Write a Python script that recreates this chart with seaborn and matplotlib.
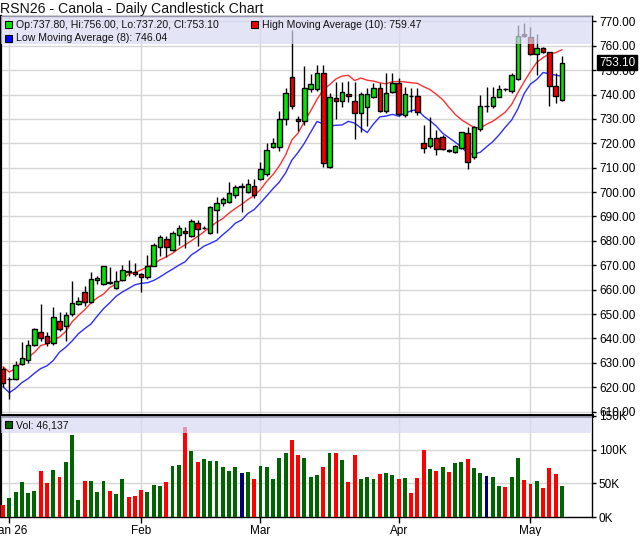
import numpy as np
import pandas as pd
import matplotlib
matplotlib.use("Agg")
import matplotlib.pyplot as plt
import matplotlib.transforms as mtransforms
from matplotlib.patches import Rectangle
import seaborn as sns

# daily bars, Dec 31 2025 -> May 8 2026
opens = [627.4, 623.3, 623.3, 629.6, 631.2, 637.2, 642.8, 641.2, 638.3, 647.0,
         645.0, 649.9, 654.0, 658.9, 654.8, 663.9, 662.2, 663.0, 660.6, 663.9,
         667.4, 667.3, 666.3, 665.0, 669.9, 677.4, 680.7, 676.3, 682.3, 684.2,
         681.9, 687.2, 685.4, 683.2, 692.7, 695.5, 696.0, 698.8, 702.3, 699.9,
         702.3, 705.2, 707.3, 718.5, 718.4, 729.8, 747.0, 729.8, 729.0, 742.1,
         742.1, 749.0, 710.2, 738.4, 737.2, 740.2, 737.5, 732.3, 735.0, 738.9,
         742.5, 733.4, 740.9, 744.6, 731.6, 739.5, 739.4, 720.0, 718.9, 722.0,
         722.7, 717.2, 716.6, 718.0, 724.1, 714.5, 725.7, 735.4, 735.3, 739.1,
         742.2, 741.6, 746.2, 764.7, 763.7, 756.6, 758.9, 757.3, 743.5, 737.8]
highs = [628.4, 624.0, 630.8, 638.6, 639.4, 644.2, 654.2, 642.5, 652.8, 651.0,
         651.0, 663.6, 657.0, 661.5, 667.3, 665.5, 669.7, 669.2, 667.7, 670.1,
         672.0, 670.8, 667.0, 674.2, 679.0, 682.5, 682.0, 684.0, 686.5, 685.8,
         688.8, 688.5, 686.0, 694.1, 697.9, 698.1, 704.3, 702.8, 703.6, 705.4,
         705.4, 712.5, 720.0, 722.0, 733.3, 742.5, 766.5, 731.0, 751.5, 748.5,
         752.1, 752.3, 740.5, 745.3, 745.3, 745.7, 745.3, 741.2, 742.5, 744.9,
         744.9, 748.7, 748.7, 746.6, 743.2, 742.5, 742.5, 727.5, 730.9, 725.5,
         723.4, 717.5, 719.3, 724.8, 726.6, 727.1, 739.8, 743.2, 743.2, 743.9,
         742.6, 748.7, 768.5, 769.2, 767.8, 764.8, 759.6, 757.5, 749.0, 756.0]
lows = [620.2, 615.3, 623.0, 629.0, 630.1, 636.8, 639.1, 636.7, 637.5, 643.0,
        639.1, 649.4, 653.7, 653.5, 654.4, 662.5, 661.9, 662.5, 660.2, 663.5,
        665.4, 665.5, 659.2, 664.5, 669.5, 673.9, 673.5, 675.8, 678.3, 676.9,
        681.5, 678.0, 684.8, 682.8, 683.4, 694.5, 695.5, 697.5, 692.0, 699.5,
        697.5, 704.8, 706.5, 718.0, 717.0, 727.5, 733.9, 725.2, 727.5, 741.0,
        741.5, 710.4, 709.9, 729.8, 735.0, 737.0, 721.6, 724.8, 727.0, 738.4,
        733.0, 732.6, 740.5, 731.2, 730.9, 733.0, 731.5, 716.2, 718.0, 715.2,
        717.3, 716.6, 716.2, 717.5, 709.3, 713.6, 725.0, 733.0, 734.3, 738.8,
        741.6, 740.8, 746.0, 763.7, 756.2, 748.0, 756.9, 735.3, 736.7, 737.2]
closes = [621.6, 623.5, 629.0, 631.9, 637.2, 643.8, 640.1, 638.0, 648.7, 643.8,
          649.5, 654.7, 655.5, 654.8, 664.5, 664.7, 669.6, 662.8, 663.6, 667.9,
          667.6, 666.6, 665.1, 669.7, 678.2, 681.5, 677.4, 683.1, 685.2, 683.2,
          688.0, 684.8, 685.2, 693.8, 695.7, 697.0, 699.5, 702.0, 702.1, 703.5,
          698.8, 709.3, 717.3, 720.0, 729.8, 740.5, 735.5, 729.0, 742.5, 744.3,
          749.0, 711.8, 738.9, 737.2, 741.2, 739.4, 732.3, 740.1, 740.1, 742.5,
          733.4, 740.5, 744.6, 732.0, 740.1, 739.3, 733.0, 718.0, 722.0, 717.5,
          717.5, 716.9, 718.9, 724.5, 712.5, 726.8, 735.3, 735.3, 739.1, 742.1,
          742.1, 748.0, 764.0, 764.0, 756.6, 758.9, 757.3, 743.5, 739.4, 753.1]
# volume in thousands
volumes = [17.3, 28.2, 36.6, 51.5, 35.1, 38.1, 67.8, 50.0, 69.3, 58.9,
           81.2, 121.3, 24.8, 53.0, 53.0, 36.6, 53.0, 38.1, 33.7, 55.9,
           29.7, 30.7, 39.6, 36.6, 47.0, 45.5, 51.5, 75.2, 76.7, 133.2,
           97.5, 81.2, 85.6, 82.7, 82.7, 73.8, 67.8, 73.8, 64.9, 66.3,
           55.9, 75.2, 73.8, 55.9, 87.1, 94.6, 113.9, 91.6, 87.1, 58.9,
           61.9, 73.8, 94.6, 94.6, 84.2, 51.5, 91.6, 55.9, 58.9, 55.9,
           63.4, 64.9, 61.9, 55.9, 57.4, 35.1, 57.4, 99.5, 70.8, 67.8,
           73.8, 66.3, 79.7, 81.2, 85.6, 72.3, 64.9, 60.4, 58.9, 45.5,
           44.1, 58.9, 87.1, 54.5, 48.5, 53.0, 42.6, 72.3, 63.4, 46.137]
# u = up, d = down, n = unchanged (volume bar colour)
vol_dir = ("duuuuuddud" + "uuuduuuduu" + "ddduuuduud" + "uduuuuuunu" +
           "duuuuudduu" + "udududduuu" + "duududddud" + "uduuduunuu" +
           "duuddudddu")
month_idx = [1, 22, 41, 63, 84]
month_lbl = ["Jan 26", "Feb", "Mar", "Apr", "May"]
# legend values as printed on the chart
hma_last = 759.47
lma_last = 746.04
vol_last = 46137

df = pd.DataFrame({"open": opens, "high": highs, "low": lows,
                   "close": closes, "vol": volumes, "dir": list(vol_dir)})
df["x"] = np.arange(len(df))
df["hma"] = df["high"].rolling(10, min_periods=1).mean()
df["lma"] = df["low"].rolling(8, min_periods=1).mean()

sns.set_theme(style="white")
plt.rcParams['font.family'] = ['Liberation Sans', 'DejaVu Sans']

W, H = 640, 536
def box(x0, y0, x1, y1):
    return [x0 / W, 1 - y1 / H, (x1 - x0) / W, (y1 - y0) / H]

fig = plt.figure(figsize=(6.4, 5.36), dpi=100)
fig.patch.set_facecolor("white")
ax = fig.add_axes(box(1, 16, 592, 416))
axv = fig.add_axes(box(1, 416, 592, 517), sharex=ax)

GRID = "#d6d6d6"
CUP, CDN = "#00e600", "#f00000"

# candles
body_lo = np.minimum(df["open"], df["close"])
body_h = np.maximum(np.abs(df["close"] - df["open"]), 0.12)
ccol = np.where(df["close"] >= df["open"], CUP, CDN)
ax.vlines(df["x"], df["low"], df["high"], color="black", lw=1, zorder=3)
ax.bar(df["x"], body_h, bottom=body_lo, width=0.72, color=ccol,
       edgecolor="black", linewidth=1, zorder=4)

# moving averages
sns.lineplot(data=df, x="x", y="hma", ax=ax, color="#ff3030", lw=1, zorder=2)
sns.lineplot(data=df, x="x", y="lma", ax=ax, color="#2e2eff", lw=1, zorder=2)

ax.set_xlim(-0.32, 93.8)
ax.set_ylim(608.2, 772.2)
ax.set_yticks(np.arange(610, 771, 10))
ax.set_yticklabels(["%.2f" % v for v in np.arange(610, 771, 10)])
ax.yaxis.tick_right()
ax.set_xticks(month_idx)
ax.grid(True, color=GRID, lw=1)
ax.set_axisbelow(True)
ax.tick_params(axis="x", bottom=False, labelbottom=False)
ax.tick_params(axis="y", right=True, length=3, width=1, pad=2,
               labelsize=8.5, colors="black")
ax.set_xlabel("")
ax.set_ylabel("")

# volume
vmap = {"u": "#006400", "d": "#ff0000", "n": "#000070"}
axv.bar(df["x"], df["vol"], width=0.62, color=df["dir"].map(vmap),
        linewidth=0, zorder=3)
axv.set_ylim(0, 150)
axv.set_yticks([0, 50, 100, 150])
axv.set_yticklabels(["0K", "50K", "100K", "150K"])
axv.yaxis.tick_right()
axv.set_xticks(month_idx)
axv.set_xticklabels(month_lbl)
axv.grid(True, color=GRID, lw=1)
axv.set_axisbelow(True)
axv.tick_params(axis="y", right=True, length=3, width=1, pad=2,
                labelsize=8.5, colors="black")
axv.tick_params(axis="x", bottom=True, length=4, width=1, pad=2,
                labelsize=8.5, colors="black")

for a in (ax, axv):
    for s in a.spines.values():
        s.set_visible(True)
        s.set_color("black")
        s.set_linewidth(1)
    a.spines["left"].set_linewidth(1.6)
ax.spines["bottom"].set_linewidth(2.6)
axv.spines["top"].set_linewidth(2.6)

# header bands
ax.add_patch(Rectangle((0, 1 - 28 / 400), 1, 28 / 400, transform=ax.transAxes,
                       facecolor="#d9d9f5", alpha=0.7, lw=0, zorder=6))
axv.add_patch(Rectangle((0, 1 - 17 / 101), 1, 17 / 101, transform=axv.transAxes,
                        facecolor="#d9d9f5", alpha=0.7, lw=0, zorder=6))

# legend squares and texts
def square(x0, y0, col):
    fig.add_artist(Rectangle((x0 / W, 1 - (y0 + 7) / H), 7 / W, 7 / H,
                             transform=fig.transFigure, facecolor=col,
                             edgecolor="black", lw=0.8, zorder=10))

def label(x0, yc, s):
    fig.text(x0 / W, 1 - yc / H, s, fontsize=7.6, va="center", ha="left",
             color="#111111", zorder=10)

last = df.iloc[-1]
square(5, 21, CUP)
label(16, 24.5, "Op:%.2f, Hi:%.2f, Lo:%.2f, Cl:%.2f"
      % (last["open"], last["high"], last["low"], last["close"]))
square(251, 21, CDN)
label(262, 24.5, "High Moving Average (10): %.2f" % hma_last)
square(5, 35, "#0000ff")
label(16, 38.5, "Low Moving Average (8): %.2f" % lma_last)
square(5, 421, "#006400")
label(16, 425, "Vol: {:,}".format(vol_last))

# title
fig.text(0 / W, 1 - 9 / H, "RSN26 - Canola - Daily Candlestick Chart",
         fontsize=10.2, va="center", ha="left", color="#111111")

# last price tag
tr = mtransforms.blended_transform_factory(ax.transAxes, ax.transData)
ax.text(1.012, last["close"], "%.2f" % last["close"], transform=tr,
        fontsize=8.5, color="white", va="center", ha="left", clip_on=False,
        zorder=11, bbox=dict(boxstyle="square,pad=0.15", fc="black", ec="black"))

fig.savefig("out.png", dpi=100, facecolor="white")
